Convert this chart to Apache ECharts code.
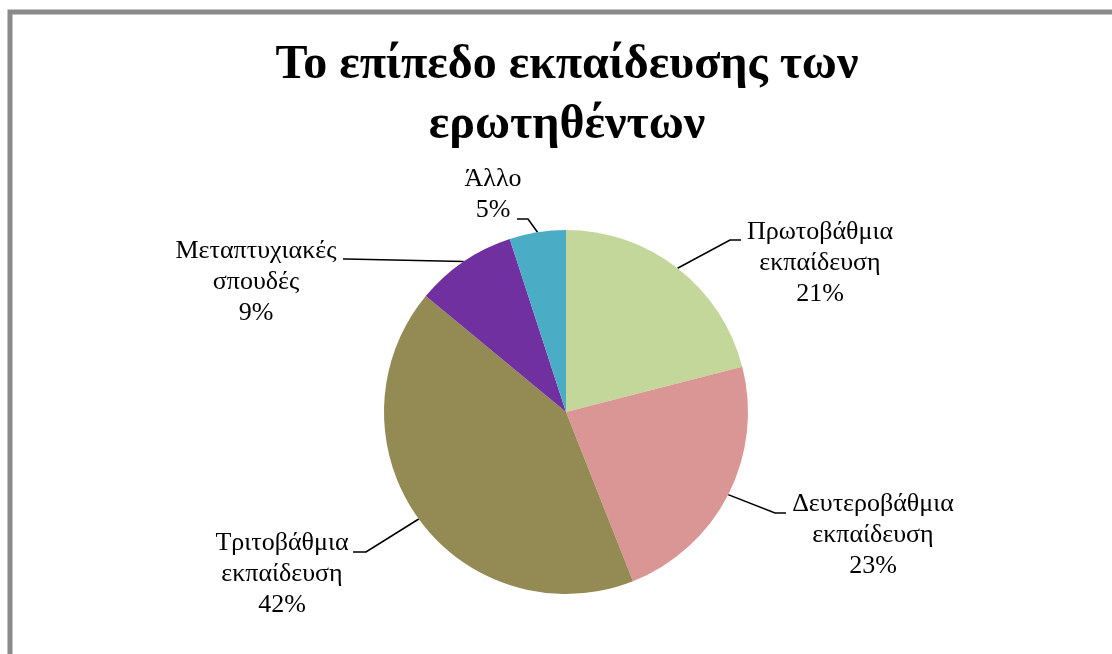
<!DOCTYPE html>
<html>
<head>
<meta charset="utf-8">
<script src="https://cdn.jsdelivr.net/npm/echarts@6/dist/echarts.min.js"></script>
<style>
  html, body { margin: 0; padding: 0; background: #ffffff; }
  #chart { width: 1112px; height: 654px; }
</style>
</head>
<body>
<div id="chart"></div>
<script>
// Education level of respondents (percent)
const categories = [
  'Πρωτοβάθμια\nεκπαίδευση',
  'Δευτεροβάθμια\nεκπαίδευση',
  'Τριτοβάθμια\nεκπαίδευση',
  'Μεταπτυχιακές\nσπουδές',
  'Άλλο'
];
const shares = [21, 23, 42, 9, 5];
const sliceColors = ['#C4D79B', '#D99694', '#948A54', '#7030A0', '#4BACC6'];

// Pie geometry
const CX = 566, CY = 412, R = 182;

// Label placement: text centre x, block top y, guide bend and guide end
const labelPlacement = [
  { x: 820, top: 217, bend: [730, 240], end: [741, 240] },
  { x: 873, top: 489, bend: [775, 513], end: [786, 513] },
  { x: 282, top: 528, bend: [366, 552], end: [353, 552] },
  { x: 256, top: 236, bend: [346, 259], end: [343, 259] },
  { x: 493, top: 164, bend: [528, 219], end: [517, 219] }
];

const total = shares.reduce((a, b) => a + b, 0);
function midEdgePoint(i) {
  let before = 0;
  for (let k = 0; k < i; k++) before += shares[k];
  const deg = 90 - (before + shares[i] / 2) / total * 360;
  const rad = deg * Math.PI / 180;
  return [CX + R * Math.cos(rad), CY - R * Math.sin(rad)];
}

const chart = echarts.init(document.getElementById('chart'));
chart.setOption({
  backgroundColor: '#ffffff',
  animation: false,
  title: {
    text: 'Το επίπεδο εκπαίδευσης των\nερωτηθέντων',
    left: 562,
    top: 31,
    textAlign: 'center',
    textStyle: {
      fontFamily: 'Liberation Serif',
      fontWeight: 'bold',
      fontSize: 48,
      lineHeight: 60,
      color: '#000000'
    }
  },
  graphic: [{
    type: 'rect',
    shape: { x: 10, y: 12, width: 1200, height: 800 },
    style: { fill: null, stroke: '#8a8a8a', lineWidth: 5 },
    silent: true
  }],
  series: [{
    type: 'pie',
    center: [CX, CY],
    radius: R,
    startAngle: 90,
    clockwise: true,
    itemStyle: { borderWidth: 0 },
    data: categories.map((name, i) => ({
      name: name,
      value: shares[i],
      itemStyle: { color: sliceColors[i] }
    })),
    label: {
      show: true,
      position: 'outside',
      formatter: p => p.name + '\n' + p.value + '%',
      fontFamily: 'Liberation Serif',
      fontSize: 26,
      lineHeight: 31,
      color: '#000000',
      align: 'center'
    },
    labelLine: {
      show: true,
      lineStyle: { color: '#000000', width: 1.6 }
    },
    labelLayout: function (params) {
      const pl = labelPlacement[params.dataIndex];
      return {
        x: pl.x,
        y: pl.top,
        align: 'center',
        verticalAlign: 'top',
        labelLinePoints: [midEdgePoint(params.dataIndex), pl.bend, pl.end]
      };
    }
  }]
});
</script>
</body>
</html>
